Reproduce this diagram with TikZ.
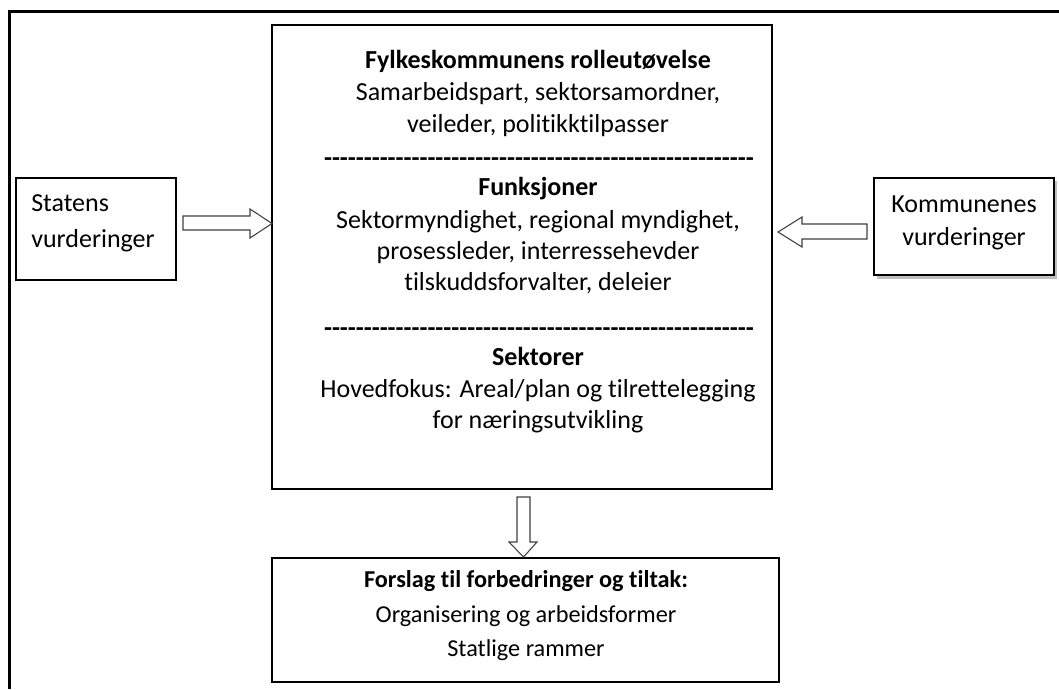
\documentclass[tikz,border=0pt]{standalone}
\usepackage{fontspec}
\setmainfont{Carlito}[Ligatures={NoCommon}]
\newcommand\hyphenrow{\foreach \hi in {1,...,54}{-\kern0pt}}
\begin{document}
\begin{tikzpicture}[x=0.75pt,y=-0.75pt,
  box/.style={draw=black,line width=1.5pt,fill=white,inner sep=0pt},
  txt/.style={anchor=base,inner sep=0pt,font=\fontsize{19.5}{23}\selectfont},
  btxt/.style={txt,font=\fontsize{19.5}{23}\selectfont\bfseries},
  stxt/.style={anchor=base,inner sep=0pt,font=\fontsize{18.2}{22}\selectfont},
  sbtxt/.style={stxt,font=\fontsize{18.2}{22}\selectfont\bfseries},
  blockarrow/.style={draw=black!75,line width=0.8pt,fill=white,line join=miter}]
\useasboundingbox (0,0) rectangle (1059,689);
% outer frame (continues past right and bottom edges)
\draw[line width=2.25pt] (1059,11) -- (9.5,11) -- (9.5,689);

% boxes
\node[box,minimum width=375pt,minimum height=348pt] (main) at (522,257) {};
\node[box,minimum width=120pt,minimum height=76.5pt] (stat) at (96,229) {};
\fill[black!25] (876.5,181) rectangle (1057,278.5);
\node[box,minimum width=135pt,minimum height=72.75pt] (komm) at (964,226.5) {};
\node[box,minimum width=380.25pt,minimum height=93pt] (forslag) at (525.5,620) {};

% block arrows
\draw[blockarrow] (183,216) -- (250,216) -- (250,209) -- (272,223.5) -- (250,238) -- (250,230) -- (183,230) -- cycle;
\draw[blockarrow] (867,224) -- (802,224) -- (802,217) -- (778,232) -- (802,247) -- (802,239) -- (867,239) -- cycle;
\draw[blockarrow] (517,497) -- (530,497) -- (530,542) -- (537,542) -- (523.5,557) -- (509,542) -- (517,542) -- cycle;

% side box texts
\node[txt,anchor=base west] (st1) at (31,211) {Statens};
\node[txt,anchor=base west] (st2) at (31,247) {vurderinger};
\node[txt] (ko1) at (964,212) {Kommunenes};
\node[txt] (ko2) at (964,245) {vurderinger};

% main box texts
\node[btxt] (m1) at (538,68) {Fylkeskommunens rolleutøvelse};
\node[txt] (m2) at (538,100) {Samarbeidspart, sektorsamordner,};
\node[txt] (m3) at (538,132) {veileder, politikktilpasser};
\node[btxt] (d1) at (539,166) {\hyphenrow};
\node[btxt] (m4) at (538,195) {Funksjoner};
\node[txt] (m5) at (538,228) {Sektormyndighet, regional myndighet,};
\node[txt] (m6) at (538,259) {prosessleder, interressehevder};
\node[txt] (m7) at (538,290) {tilskuddsforvalter, deleier};
\node[btxt] (d2) at (539,336) {\hyphenrow};
\node[btxt] (m8) at (538,365) {Sektorer};
\node[txt] (m9) at (538,397) {Hovedfokus: Areal/plan og tilrettelegging};
\node[txt] (m10) at (538,428) {for næringsutvikling};

% bottom box texts
\node[sbtxt] (f1) at (526,587) {Forslag til forbedringer og tiltak:};
\node[stxt] (f2) at (526,622) {Organisering og arbeidsformer};
\node[stxt] (f3) at (526,656) {Statlige rammer};
\end{tikzpicture}
\end{document}
